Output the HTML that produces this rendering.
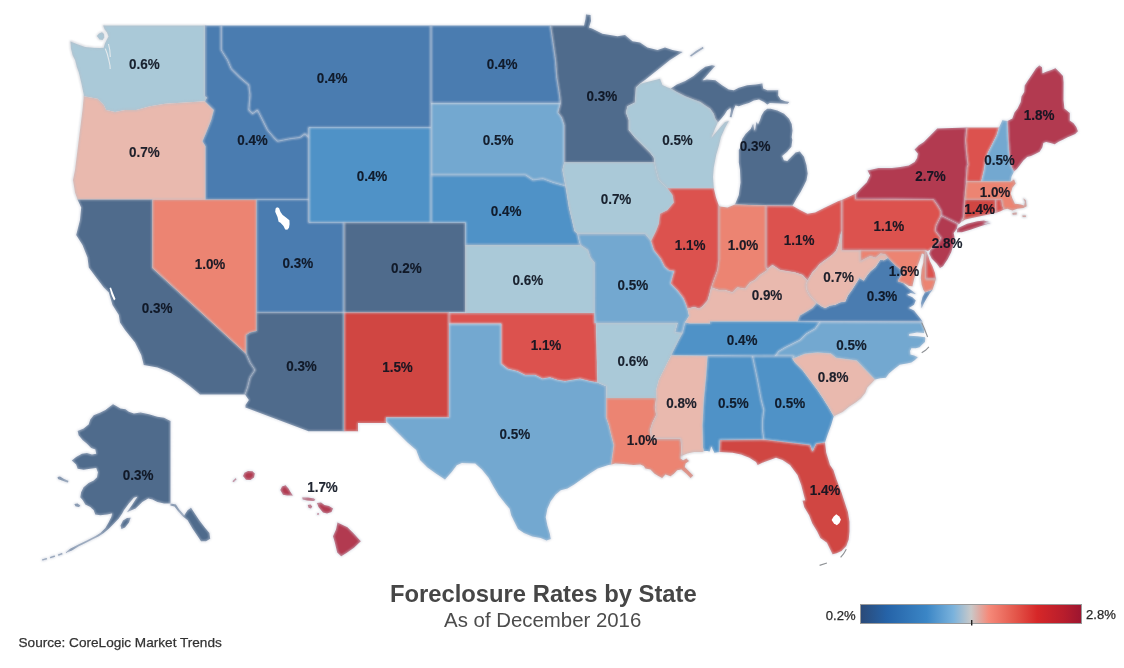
<!DOCTYPE html>
<html lang="en"><head><meta charset="utf-8"><title>Foreclosure Rates by State</title>
<style>
html,body{margin:0;padding:0;background:#fff;}
body{width:1124px;height:668px;overflow:hidden;position:relative;font-family:"Liberation Sans",Arial,sans-serif;}
svg{position:absolute;left:0;top:0;}
.st{stroke:#cdd2de;stroke-width:1.15;stroke-linejoin:round;}
.lb{font-family:"Liberation Sans",Arial,sans-serif;font-size:15.4px;fill:#0c1220;fill-opacity:.92;text-anchor:middle;stroke:#0c1220;stroke-opacity:.92;stroke-width:0.15;font-weight:bold;}
.w{fill:#fff;stroke:none;}
.s2{stroke:#bcbfc8;}
</style></head><body>
<svg width="1124" height="668" viewBox="0 0 1124 668">
<defs><linearGradient id="lg" x1="0" x2="1" y1="0" y2="0">
<stop offset="0" stop-color="#2b4a78"/><stop offset="0.12" stop-color="#2563a8"/><stop offset="0.3" stop-color="#3b86c6"/><stop offset="0.42" stop-color="#7ab2dc"/><stop offset="0.5" stop-color="#c9c9c9"/><stop offset="0.58" stop-color="#f58a7a"/><stop offset="0.7" stop-color="#e4574b"/><stop offset="0.8" stop-color="#d62728"/><stop offset="0.92" stop-color="#b81d2c"/><stop offset="1" stop-color="#9c1530"/>
</linearGradient></defs>
<g id="map">
<path fill="#aac9d8" d="M103.2,25.5 205.0,25.5 205.0,96.2 207.0,97.5 205.0,101.2 185.0,102.5 165.0,103.8 150.0,106.2 136.2,110.0 125.0,110.0 115.0,112.0 106.2,110.0 103.8,105.0 97.5,98.8 83.8,96.2 83.8,95.0 81.2,82.5 78.8,72.5 76.8,67.0 75.1,60.3 72.6,55.3 70.9,48.6 70.5,41.4 76.8,43.9 85.2,46.9 93.6,47.7 99.4,48.1 103.6,47.7 104.9,43.5 107.0,39.3 108.5,36.5 107.0,32.6 104.5,29.3Z M96.9,36.0 99.0,33.5 102.0,32.2 104.0,34.0 104.3,37.5 102.5,40.0 99.5,39.5Z"/>
<path fill="#e9b9ae" d="M83.8,96.2 97.5,98.8 103.8,105.0 106.2,110.0 115.0,112.0 125.0,110.0 136.2,110.0 150.0,106.2 165.0,103.8 185.0,102.5 205.0,101.2 210.0,106.2 213.8,110.0 211.2,120.0 206.2,132.5 202.5,141.2 205.5,146.2 205.5,199.5 77.5,199.5 75.0,192.5 73.0,180.0 75.0,170.0 77.5,150.0 80.0,130.0 82.5,110.0Z"/>
<path fill="#4f6b8c" d="M77.5,199.5 152.5,199.5 152.5,268.0 246.2,353.8 250.0,362.5 255.0,370.0 250.0,377.5 247.5,387.5 245.0,394.5 200.0,394.5 190.0,386.2 180.0,378.8 170.0,372.5 157.5,367.5 143.8,365.0 141.2,355.0 135.0,342.5 125.0,330.0 120.0,322.5 118.8,315.0 112.5,305.0 108.8,292.5 103.8,287.5 96.2,277.5 88.8,267.5 87.5,257.5 82.5,245.0 76.2,235.0 80.0,220.0 81.2,207.5Z"/>
<path fill="#ec8472" d="M152.5,199.5 256.5,199.5 256.5,331.0 250.0,332.5 246.2,335.0 246.2,353.8 152.5,268.0Z"/>
<path fill="#4a7cb0" d="M205.0,25.5 221.2,25.5 221.2,50.0 227.5,60.0 231.2,68.8 240.0,77.5 248.8,85.0 250.0,95.0 248.8,110.0 252.5,113.8 257.5,110.0 262.5,120.0 267.5,130.0 273.8,137.5 277.5,141.2 290.0,138.8 300.0,137.5 305.0,133.8 308.8,137.5 308.8,199.5 205.5,199.5 205.5,146.2 202.5,141.2 206.2,132.5 211.2,120.0 213.8,110.0 210.0,106.2 205.0,101.2 207.0,97.5 205.0,96.2Z"/>
<path fill="#4a7cb0" d="M221.2,25.5 431.0,25.5 431.0,127.5 308.8,127.5 308.8,137.5 305.0,133.8 300.0,137.5 290.0,138.8 277.5,141.2 273.8,137.5 267.5,130.0 262.5,120.0 257.5,110.0 252.5,113.8 248.8,110.0 250.0,95.0 248.8,85.0 240.0,77.5 231.2,68.8 227.5,60.0 221.2,50.0 221.2,25.5Z"/>
<path fill="#4f92c7" d="M308.8,127.5 431.0,127.5 431.0,222.5 308.8,222.5Z"/>
<path fill="#4a7cb0" d="M256.5,199.5 308.8,199.5 308.8,222.5 344.0,222.5 344.0,312.5 256.5,312.5Z"/>
<path fill="#4f6b8c" d="M344.0,222.5 465.5,222.5 465.5,312.5 344.0,312.5Z"/>
<path fill="#4f6b8c" d="M256.5,312.5 344.0,312.5 344.0,431.2 308.5,431.2 245.5,407.5 245.5,405.0 248.8,400.0 245.0,394.5 247.5,387.5 250.0,377.5 255.0,370.0 250.0,362.5 246.2,353.8 246.2,353.8 246.2,335.0 250.0,332.5 256.5,331.0Z"/>
<path fill="#d04642" d="M344.0,312.5 449.0,312.5 449.0,417.5 386.2,417.5 386.2,423.0 358.0,423.0 358.0,431.2 344.0,431.2Z"/>
<path fill="#4a7cb0" d="M431.0,25.5 550.5,25.5 553.0,42.5 555.5,60.0 556.8,77.5 559.2,92.5 560.5,103.2 431.0,103.2Z"/>
<path fill="#73a8d0" d="M431.0,103.2 560.5,103.2 558.0,112.5 561.8,117.5 564.2,125.0 564.2,162.5 562.5,170.0 565.5,186.0 553.0,182.5 543.0,178.8 533.0,180.0 525.5,175.0 431.0,175.0Z"/>
<path fill="#4f92c7" d="M431.0,175.0 525.5,175.0 533.0,180.0 543.0,178.8 553.0,182.5 565.5,186.0 567.0,195.0 569.0,207.5 572.0,220.0 574.5,231.0 577.5,233.8 579.5,242.5 580.5,245.0 465.5,245.0 465.5,222.5 431.0,222.5Z"/>
<path fill="#aac9d8" d="M465.5,245.0 580.5,245.0 588.0,250.0 590.5,257.5 594.5,262.5 594.5,313.0 465.5,313.0Z"/>
<path fill="#dc524e" d="M449.0,313.0 594.5,313.0 595.0,323.0 596.0,323.0 597.5,382.5 590.0,381.2 580.0,378.8 572.5,380.0 565.0,381.2 557.5,380.0 550.0,377.5 542.5,378.8 535.0,375.0 525.0,375.0 517.5,371.2 507.5,368.8 501.2,363.8 501.2,323.8 449.0,323.8Z"/>
<path fill="#73a8d0" d="M449.0,323.8 501.2,323.8 501.2,363.8 507.5,368.8 517.5,371.2 525.0,375.0 535.0,375.0 542.5,378.8 550.0,377.5 557.5,380.0 565.0,381.2 572.5,380.0 580.0,378.8 590.0,381.2 597.5,382.5 606.2,386.2 606.2,417.5 608.8,425.0 611.2,435.0 613.8,445.0 612.5,455.0 611.2,464.5 607.7,465.2 597.7,468.5 591.0,472.7 582.6,478.6 574.2,484.4 567.5,488.6 560.8,490.3 555.7,494.5 550.7,501.2 547.4,508.8 545.7,517.2 547.4,525.5 549.9,533.9 550.7,539.0 546.5,540.6 540.6,538.1 532.3,536.4 523.9,533.1 518.0,528.9 514.6,522.2 511.3,515.5 509.6,508.8 505.4,503.7 498.7,495.3 493.7,487.0 488.6,477.7 481.9,469.4 475.2,463.5 461.8,463.1 456.8,465.2 451.7,471.9 445.0,479.4 436.2,473.8 427.5,467.5 420.0,460.0 416.2,450.0 407.5,442.5 400.0,435.0 392.5,427.5 386.2,421.2 386.2,417.5 449.0,417.5Z"/>
<path fill="#4f6b8c" d="M550.5,25.5 553.0,42.5 555.5,60.0 556.8,77.5 559.2,92.5 560.5,103.2 558.0,112.5 561.8,117.5 564.2,125.0 564.2,162.5 654.5,162.5 653.8,157.5 650.0,152.5 642.5,145.0 635.0,137.5 628.8,130.0 628.8,120.0 626.0,112.5 627.5,106.2 635.0,102.5 636.0,87.5 640.0,83.8 645.0,80.0 657.5,70.0 670.0,60.0 682.5,52.0 672.5,50.0 665.0,47.5 657.5,50.0 647.5,47.5 640.0,42.5 632.5,41.2 625.0,35.0 617.5,36.2 602.5,33.8 592.5,28.8 589.0,27.5 591.0,21.0 590.5,15.0 586.0,14.5 585.5,19.0 584.0,25.5Z"/>
<path fill="#aac9d8" d="M564.2,162.5 654.5,162.5 656.0,170.0 658.8,180.0 667.5,188.2 672.5,195.0 673.8,202.5 667.5,210.0 660.0,213.8 658.8,223.8 656.0,231.0 651.0,241.0 645.0,233.8 577.5,233.8 574.5,231.0 572.0,220.0 569.0,207.5 567.0,195.0 565.5,186.0 562.5,170.0Z"/>
<path fill="#73a8d0" d="M577.5,233.8 579.5,242.5 580.5,245.0 588.0,250.0 590.5,257.5 594.5,262.5 594.5,323.0 677.5,323.0 675.0,332.5 682.5,333.0 685.0,322.5 689.1,316.0 687.5,308.8 685.8,303.7 683.3,297.9 677.4,290.3 670.7,283.6 672.4,276.9 674.1,271.0 669.0,270.2 664.8,266.8 660.6,258.5 653.9,250.1 651.0,241.0 645.0,233.8Z"/>
<path fill="#aac9d8" d="M596.0,323.0 677.5,323.0 675.0,332.5 682.5,333.0 677.5,342.5 672.5,352.5 671.2,355.5 667.5,362.5 662.5,372.5 658.8,380.0 656.2,390.0 656.2,398.0 606.2,398.0 606.2,386.2 597.5,382.5Z"/>
<path fill="#ec8472" d="M606.2,398.0 656.2,398.0 655.0,407.5 656.2,415.0 652.5,422.5 650.0,430.0 651.2,438.8 680.6,438.8 681.4,447.5 681.4,452.0 680.6,458.6 683.1,460.3 686.4,458.6 689.0,461.1 685.6,463.6 684.8,467.0 689.0,471.2 693.2,475.4 690.6,477.9 686.4,473.7 681.4,469.5 677.2,470.3 673.9,473.7 670.5,476.2 665.5,474.5 662.1,477.9 658.8,476.2 654.6,473.7 650.4,469.5 645.4,468.6 643.7,466.1 640.3,464.4 633.6,465.0 623.5,463.9 615.2,463.6 611.2,464.5 612.5,455.0 613.8,445.0 611.2,435.0 608.8,425.0 606.2,417.5Z"/>
<path fill="#aac9d8" d="M640.0,83.8 650.0,81.2 660.0,78.8 662.5,85.0 668.0,87.5 670.9,88.6 676.8,92.0 685.2,96.2 693.5,99.5 700.3,102.1 705.3,105.4 710.3,108.8 713.7,113.8 715.4,118.8 717.9,122.2 715.0,128.8 711.5,137.5 720.0,127.5 725.0,122.0 728.8,121.0 725.0,128.0 721.0,137.0 718.8,146.0 716.2,155.0 713.8,167.5 713.0,177.0 713.8,188.2 667.5,188.2 658.8,180.0 656.0,170.0 654.5,162.5 654.5,162.5 653.8,157.5 650.0,152.5 642.5,145.0 635.0,137.5 628.8,130.0 628.8,120.0 626.0,112.5 627.5,106.2 635.0,102.5 636.0,87.5 640.0,83.8Z"/>
<path fill="#dc524e" d="M667.5,188.2 713.8,188.2 716.0,197.5 718.8,205.5 718.8,260.0 717.5,270.0 713.8,280.0 711.2,287.5 711.2,287.5 709.5,294.0 707.6,300.4 702.6,306.3 699.2,308.8 694.2,307.1 687.5,308.8 687.5,308.8 685.8,303.7 683.3,297.9 677.4,290.3 670.7,283.6 672.4,276.9 674.1,271.0 669.0,270.2 664.8,266.8 660.6,258.5 653.9,250.1 651.0,241.0 651.0,241.0 656.0,231.0 658.8,223.8 660.0,213.8 667.5,210.0 673.8,202.5 672.5,195.0 667.5,188.2Z"/>
<path fill="#4f6b8c" d="M670.9,88.6 676.8,84.4 685.2,81.1 693.5,76.1 700.3,70.2 705.3,66.8 712.0,65.2 715.0,66.0 712.0,69.4 707.0,75.2 702.8,80.3 707.0,79.4 715.4,80.3 722.1,85.3 728.8,89.5 733.8,90.3 738.8,87.8 747.2,85.3 755.6,84.4 762.3,83.6 763.2,88.6 767.3,90.3 778.2,90.3 778.2,95.4 780.8,99.5 785.0,101.2 789.2,102.0 787.5,103.7 780.8,103.4 769.9,102.9 767.3,104.6 764.0,102.0 759.0,99.5 753.9,100.4 748.9,102.9 743.9,104.6 738.8,106.3 735.5,105.4 733.5,110.0 731.5,117.3 729.8,117.0 731.0,110.5 730.4,107.9 727.1,110.4 724.6,114.6 721.2,118.8 717.9,122.2 715.4,118.8 713.7,113.8 710.3,108.8 705.3,105.4 700.3,102.1 693.5,99.5 685.2,96.2 676.8,92.0Z M690.2,55.6 696.0,51.0 702.8,47.0 703.5,48.2 697.0,52.5 691.0,56.6Z"/>
<path fill="#4f6b8c" d="M767.3,108.8 770.7,108.8 777.4,110.4 784.1,113.8 789.1,118.8 791.7,123.9 792.5,130.6 791.7,137.3 792.3,140.0 791.4,146.8 787.2,151.8 782.2,156.0 783.9,160.2 787.2,161.0 791.4,156.8 795.6,152.6 799.8,151.5 804.0,156.8 806.5,165.2 807.7,173.6 806.5,180.3 804.0,185.4 800.6,192.1 796.4,198.8 792.5,205.8 766.2,205.5 735.0,204.5 738.8,195.0 740.5,182.5 740.0,170.0 738.8,162.5 738.8,150.0 740.5,147.3 742.2,139.0 745.5,133.9 750.6,128.9 753.1,124.0 754.8,130.6 756.4,122.2 758.1,123.9 759.8,120.5 761.5,115.5 764.0,111.3Z"/>
<path fill="#ec8472" d="M718.8,205.5 720.0,206.5 727.5,207.5 735.0,204.5 766.2,205.5 766.2,267.5 767.5,270.0 760.0,275.0 755.0,280.0 750.0,282.5 745.0,288.8 737.5,287.5 732.5,292.5 725.0,290.0 718.8,290.0 711.2,287.5 711.2,287.5 713.8,280.0 717.5,270.0 718.8,260.0Z"/>
<path fill="#dc524e" d="M766.2,205.5 792.5,205.8 800.0,210.0 807.5,213.8 815.0,212.5 825.0,207.5 838.0,201.2 841.8,200.0 841.8,231.0 841.8,231.0 840.2,236.0 838.6,244.4 836.0,251.0 832.7,254.4 828.5,257.8 823.5,261.2 819.3,264.5 815.9,268.7 812.6,272.0 810.0,276.3 807.5,280.4 807.5,280.4 802.5,275.0 795.0,272.5 787.5,271.2 780.0,270.0 772.5,265.0 767.5,268.8 766.2,267.5Z"/>
<path fill="#e9b9ae" d="M687.5,308.8 694.2,307.1 699.2,308.8 702.6,306.3 707.6,300.4 709.5,294.0 711.2,287.5 718.8,290.0 725.0,290.0 732.5,292.5 737.5,287.5 745.0,288.8 750.0,282.5 755.0,280.0 760.0,275.0 767.5,270.0 766.2,267.5 767.5,268.8 772.5,265.0 780.0,270.0 787.5,271.2 795.0,272.5 802.5,275.0 807.5,280.4 806.0,284.6 806.7,289.7 809.2,294.7 813.4,299.7 816.8,303.1 812.5,308.0 806.0,312.0 800.0,315.5 797.5,321.5 710.0,321.5 710.0,323.5 690.0,323.5 685.0,322.5 689.1,316.0Z"/>
<path fill="#4f92c7" d="M685.0,322.5 690.0,323.5 710.0,323.5 710.0,321.5 797.5,321.5 820.0,321.8 815.0,328.8 806.2,333.8 800.0,340.0 792.5,343.8 785.0,347.5 778.8,351.2 775.0,356.0 671.2,355.5 672.5,352.5 677.5,342.5 682.5,333.0Z"/>
<path fill="#e9b9ae" d="M671.2,355.5 707.5,356.0 706.2,375.0 703.8,400.0 702.5,425.0 703.0,447.5 704.0,451.0 702.4,451.9 694.0,451.9 687.3,453.5 681.4,456.1 680.6,458.6 681.4,452.0 681.4,447.5 680.6,438.8 651.2,438.8 650.0,430.0 652.5,422.5 656.2,415.0 655.0,407.5 656.2,398.0 656.2,398.0 656.2,390.0 658.8,380.0 662.5,372.5 667.5,362.5 671.2,355.5Z"/>
<path fill="#4f92c7" d="M707.5,356.0 752.5,356.0 757.5,380.0 761.2,400.0 763.8,410.0 762.5,420.0 762.5,430.0 763.8,439.5 720.0,440.0 719.5,451.9 714.5,452.7 713.0,450.0 711.2,446.6 710.2,450.0 709.5,451.5 707.4,451.0 704.0,451.0 703.0,447.5 702.5,425.0 703.8,400.0 706.2,375.0 707.5,356.0Z"/>
<path fill="#4f92c7" d="M752.5,356.0 793.8,356.0 792.5,358.8 795.0,362.5 802.5,370.0 810.0,380.0 817.5,390.0 822.5,397.5 828.8,407.5 833.8,416.2 831.2,425.0 827.5,435.0 825.0,442.5 816.2,443.8 812.5,451.2 810.0,445.0 763.8,439.5 762.5,430.0 762.5,420.0 763.8,410.0 761.2,400.0 757.5,380.0 752.5,356.0Z"/>
<path fill="#d04642" d="M720.0,440.0 763.8,439.5 810.0,445.0 812.5,451.2 816.2,443.8 825.0,442.5 826.2,452.5 830.0,465.0 833.4,470.0 836.6,479.7 841.5,492.6 844.7,502.3 847.9,512.1 849.5,521.8 849.5,531.5 848.7,539.5 846.3,546.0 841.5,550.9 836.6,553.3 832.6,554.3 830.1,549.3 826.9,542.8 820.4,537.9 817.2,531.5 812.3,523.4 809.1,515.3 804.3,507.2 802.6,500.7 805.2,500.2 803.8,495.0 801.2,485.0 797.5,475.0 790.0,465.0 782.5,460.0 776.0,457.7 764.4,461.9 757.7,465.0 756.0,461.9 749.3,457.7 741.0,454.4 732.6,452.7 719.5,451.9Z"/>
<path fill="#e9b9ae" d="M792.5,358.8 805.0,353.8 817.5,352.5 830.8,353.5 836.2,357.8 856.7,360.5 875.0,379.4 871.8,383.1 867.4,387.4 865.3,392.8 861.0,398.2 855.6,402.5 849.1,406.8 842.6,412.0 833.8,416.2 828.8,407.5 822.5,397.5 817.5,390.0 810.0,380.0 802.5,370.0 795.0,362.5Z"/>
<path fill="#73a8d0" d="M820.0,321.8 921.7,322.0 923.1,326.6 924.4,330.2 924.0,332.9 917.0,332.6 909.2,334.1 909.2,335.8 917.7,336.2 924.9,337.2 925.3,338.5 924.9,341.9 922.2,344.6 919.5,347.3 915.9,348.2 911.4,348.2 910.1,350.9 910.5,354.5 914.1,355.4 917.7,357.2 915.0,359.9 911.4,362.6 906.9,363.5 902.4,364.3 899.8,364.8 894.2,369.1 889.0,373.4 885.8,377.7 880.4,378.3 875.0,379.4 856.7,360.5 836.2,357.8 830.8,353.5 817.5,352.5 805.0,353.8 792.5,358.8 793.8,356.0 775.0,356.0 778.8,351.2 785.0,347.5 792.5,343.8 800.0,340.0 806.2,333.8 815.0,328.8Z"/>
<path fill="#4a7cb0" d="M888.0,257.8 891.4,261.2 895.6,265.4 900.6,269.5 902.3,273.7 899.0,278.8 898.0,281.3 903.2,283.0 909.0,288.5 913.0,291.5 915.7,293.9 910.7,293.0 907.3,294.7 912.4,297.2 915.7,300.6 914.0,304.8 909.0,308.1 914.0,310.6 917.4,314.8 920.8,319.0 922.5,321.8 797.5,321.5 800.0,315.5 806.0,312.0 812.5,308.0 816.8,303.1 821.8,306.4 825.2,308.1 830.2,305.6 835.2,304.8 840.3,302.3 845.3,301.4 847.8,295.5 852.0,289.7 855.3,284.6 859.5,278.0 863.7,280.4 867.0,275.4 870.4,271.2 875.5,267.0 880.5,259.5 883.9,260.3Z M925.0,292.2 932.5,289.7 930.0,293.0 927.5,297.0 924.0,303.1 921.6,308.1 921.0,303.0 922.5,297.0Z"/>
<path fill="#e9b9ae" d="M841.8,231.0 841.8,250.2 860.4,250.2 860.4,261.2 865.4,258.6 870.4,256.0 875.5,257.8 880.5,253.6 885.5,254.5 888.0,257.8 883.9,260.3 880.5,259.5 875.5,267.0 870.4,271.2 867.0,275.4 863.7,280.4 859.5,278.0 855.3,284.6 852.0,289.7 847.8,295.5 845.3,301.4 840.3,302.3 835.2,304.8 830.2,305.6 825.2,308.1 821.8,306.4 816.8,303.1 813.4,299.7 809.2,294.7 806.7,289.7 806.0,284.6 807.5,280.4 810.0,276.3 812.6,272.0 815.9,268.7 819.3,264.5 823.5,261.2 828.5,257.8 832.7,254.4 836.0,251.0 838.6,244.4 840.2,236.0Z"/>
<path fill="#ec8472" d="M860.4,250.2 925.0,250.2 925.8,252.0 925.8,278.8 935.9,278.8 934.5,284.0 932.5,289.7 925.0,292.2 923.3,289.7 921.6,284.6 920.8,278.0 921.6,269.5 923.3,262.8 924.0,254.5 922.0,253.5 920.0,259.5 917.4,266.2 915.7,272.9 914.0,279.6 912.4,286.3 909.0,286.0 903.2,283.0 898.0,281.3 899.0,278.8 902.3,273.7 900.6,269.5 895.6,265.4 891.4,261.2 888.0,257.8 888.0,257.8 885.5,254.5 880.5,253.6 875.5,257.8 870.4,256.0 865.4,258.6 860.4,261.2Z"/>
<path fill="#dc524e" d="M925.0,250.2 926.6,252.0 928.3,256.1 930.0,261.2 932.5,266.2 935.0,272.9 935.9,278.8 925.8,278.8 925.8,252.0Z"/>
<path fill="#b23a50" d="M941.1,215.4 957.9,223.8 957.0,228.8 953.7,233.0 954.5,237.2 953.7,243.9 951.2,252.3 947.8,259.0 943.0,266.2 940.0,267.9 936.8,263.8 931.8,258.8 929.2,253.8 930.2,249.8 933.5,247.3 937.7,243.1 941.1,238.0 937.7,233.9 935.2,230.5 936.1,225.5 938.6,220.4 941.1,215.4Z"/>
<path fill="#dc524e" d="M841.8,200.0 855.5,193.8 855.5,199.0 933.5,199.5 937.7,205.4 941.1,211.2 941.1,215.4 938.6,220.4 936.1,225.5 935.2,230.5 937.7,233.9 941.1,238.0 937.7,243.1 933.5,247.3 930.2,249.8 928.0,251.0 925.0,250.2 841.8,250.2Z"/>
<path fill="#b23a50" d="M855.5,199.0 855.7,193.9 860.1,188.9 866.8,182.2 870.1,175.5 867.6,170.4 878.5,167.9 891.9,167.9 900.3,167.1 908.7,165.4 914.6,162.1 917.1,157.9 917.9,153.7 914.6,149.5 918.8,145.3 923.8,141.9 930.5,135.2 937.2,128.5 966.8,127.5 965.5,140.0 966.8,155.0 968.0,165.0 967.1,166.8 966.2,181.5 964.6,199.5 963.7,217.1 961.2,222.1 958.7,224.6 957.9,223.8 941.1,215.4 941.1,211.2 937.7,205.4 933.5,199.5Z M957.0,229.5 957.9,228.0 967.1,223.8 977.2,221.3 983.9,220.4 988.9,222.1 983.9,223.8 990.6,223.0 980.5,226.3 970.4,229.7 962.0,232.2 957.0,232.2Z"/>
<path fill="#dc524e" d="M966.8,127.5 999.0,127.5 996.8,135.0 991.8,145.0 988.0,152.5 985.5,160.0 984.0,170.0 981.3,181.5 966.2,181.5 967.1,166.8 968.0,165.0 966.8,155.0 965.5,140.0Z"/>
<path fill="#73a8d0" d="M999.0,127.5 1002.4,120.3 1007.5,121.0 1008.3,137.7 1008.9,148.5 1010.0,160.4 1011.6,166.8 1014.0,171.5 1011.5,176.8 1010.7,181.5 981.3,181.5 984.0,170.0 985.5,160.0 988.0,152.5 991.8,145.0 996.8,135.0 999.0,127.5Z"/>
<path fill="#b23a50" d="M1007.5,121.0 1012.3,118.5 1014.5,112.5 1017.7,108.2 1020.7,102.0 1021.5,96.4 1024.2,92.0 1024.7,85.6 1027.4,81.3 1031.8,74.8 1036.1,68.3 1039.3,65.6 1042.0,67.3 1042.5,73.2 1046.8,71.6 1051.2,69.9 1055.5,68.3 1059.8,72.6 1063.0,75.9 1063.6,82.3 1063.5,100.0 1064.4,108.6 1069.8,112.9 1069.8,120.5 1073.6,123.2 1076.3,127.0 1077.9,131.3 1075.2,134.0 1071.9,135.6 1067.6,137.2 1063.3,139.4 1059.0,141.5 1054.7,144.2 1050.4,143.1 1046.1,142.0 1043.4,143.1 1042.3,147.4 1039.6,151.8 1035.3,153.9 1031.0,156.1 1027.2,157.1 1023.4,160.4 1020.2,164.7 1016.9,169.0 1014.0,171.5 1011.6,166.8 1010.0,160.4 1008.9,148.5 1008.3,137.7Z"/>
<path fill="#ec8472" d="M966.2,181.5 1010.7,181.5 1014.0,179.4 1015.7,183.5 1012.4,187.7 1010.7,193.6 1012.4,198.6 1014.9,203.7 1020.8,204.5 1024.1,205.4 1025.0,202.0 1023.3,198.6 1025.8,200.3 1026.6,206.2 1023.3,207.9 1017.4,208.7 1012.4,210.4 1007.3,208.7 1004.0,209.5 1002.3,205.4 1001.5,199.5 964.6,199.5Z M1012.4,213.0 1016.6,212.6 1016.6,214.4 1012.8,214.8Z M1022.4,215.4 1025.8,215.6 1025.8,217.0 1022.8,217.0Z"/>
<path fill="#d04642" d="M964.6,199.5 995.6,199.5 995.6,212.9 983.9,215.4 972.1,217.9 965.4,219.6 961.2,222.1 963.7,217.1Z"/>
<path fill="#dc524e" d="M995.6,199.5 1001.5,199.5 1002.3,205.4 1004.0,209.5 1000.6,211.2 995.6,212.9Z"/>
<path fill="#4f6b8c" d="M170.5,421.0 164.1,417.7 157.4,416.8 149.0,414.3 140.6,412.6 133.9,413.5 128.9,411.8 125.5,409.3 120.5,408.5 116.3,405.9 113.0,404.3 109.6,406.8 105.4,410.1 100.4,412.6 93.7,415.2 90.3,419.4 88.6,424.4 83.6,428.6 77.7,431.1 78.6,435.3 82.8,440.3 87.0,443.7 91.2,447.9 95.3,449.5 96.2,453.7 92.0,454.6 87.0,452.9 81.9,453.7 76.1,457.1 71.9,460.4 76.1,464.6 77.7,468.8 83.6,469.7 90.3,468.8 96.2,468.0 97.9,472.2 97.0,477.2 93.7,480.6 88.6,483.1 83.6,487.3 81.1,492.3 80.3,497.3 82.8,500.2 85.3,504.4 90.3,506.9 93.7,510.3 95.3,514.4 100.4,515.3 107.1,514.4 112.1,513.6 111.3,517.0 108.8,522.0 105.4,527.9 100.4,532.9 95.3,536.3 87.0,540.4 78.6,544.6 70.2,548.8 65.2,553.0 71.9,550.5 78.6,546.3 85.3,543.0 92.0,539.6 98.7,536.3 103.7,532.9 108.8,528.7 113.8,523.7 118.8,518.6 122.2,513.6 123.9,510.3 128.9,503.5 133.9,497.7 137.3,496.8 132.0,505.0 127.2,511.9 131.4,510.3 135.6,508.6 139.0,505.2 142.3,501.9 148.2,498.5 152.4,499.4 157.4,501.9 164.1,503.5 170.5,503.5 175.9,504.4 179.2,509.4 184.2,515.3 187.6,510.3 191.0,507.7 194.3,512.8 199.3,520.3 204.4,527.0 209.4,532.9 210.2,538.8 206.0,541.3 201.0,541.3 197.7,536.3 192.6,528.7 187.6,520.3 183.0,516.5 178.0,511.0 174.5,506.5 170.5,505.5Z M120.5,525.4 123.0,520.5 127.0,518.0 130.6,517.8 129.0,522.5 125.0,527.5 121.5,529.0Z M57.6,477.0 60.0,476.5 64.0,479.0 68.5,481.0 67.5,482.4 62.0,480.6 58.0,479.0Z M74.4,504.0 77.5,503.5 80.3,505.5 79.0,507.0 75.5,506.3Z M58.0,554.5 62.0,553.0 62.5,554.2 58.5,555.8Z M50.0,557.0 54.5,555.5 55.0,556.7 50.5,558.3Z M42.0,559.5 46.5,558.0 47.0,559.2 42.5,560.6Z"/>
<path fill="#b23a50" d="M243.0,476.0 244.5,472.8 248.0,471.0 252.5,471.2 254.8,473.5 254.0,477.5 250.5,480.0 246.0,479.8Z M282.0,486.5 285.6,485.3 288.5,488.5 290.5,492.0 292.8,495.5 287.0,495.6 283.0,494.8 280.3,490.0Z M302.3,497.6 308.0,497.4 314.0,498.6 315.3,500.0 313.5,501.0 307.0,500.6 302.8,499.6Z M307.8,505.0 310.5,504.4 312.2,506.5 311.0,508.6 308.6,507.8Z M317.0,503.0 321.0,502.6 324.5,505.0 329.0,506.0 333.0,508.5 331.5,512.0 327.0,513.5 323.0,512.5 320.5,509.5 318.5,507.0Z M337.5,522.5 347.5,527.2 353.8,533.5 360.8,541.2 354.0,547.8 346.5,553.0 341.2,556.2 337.2,552.5 334.8,542.5 333.0,536.2 336.0,529.5Z M232.5,481.3 235.5,478.2 236.5,479.3 233.8,482.0Z M317.0,513.5 319.0,513.2 319.0,514.6 317.3,514.8Z"/>
<g class="bd" style="filter:blur(0.8px)">
<path class="st" fill="none" d="M77.5,199.5 152.5,199.5 152.5,268.0 246.2,353.8 250.0,362.5 255.0,370.0 250.0,377.5 247.5,387.5 245.0,394.5 200.0,394.5 190.0,386.2 180.0,378.8 170.0,372.5 157.5,367.5 143.8,365.0 141.2,355.0 135.0,342.5 125.0,330.0 120.0,322.5 118.8,315.0 112.5,305.0 108.8,292.5 103.8,287.5 96.2,277.5 88.8,267.5 87.5,257.5 82.5,245.0 76.2,235.0 80.0,220.0 81.2,207.5Z"/>
<path class="st" fill="none" d="M205.0,25.5 221.2,25.5 221.2,50.0 227.5,60.0 231.2,68.8 240.0,77.5 248.8,85.0 250.0,95.0 248.8,110.0 252.5,113.8 257.5,110.0 262.5,120.0 267.5,130.0 273.8,137.5 277.5,141.2 290.0,138.8 300.0,137.5 305.0,133.8 308.8,137.5 308.8,199.5 205.5,199.5 205.5,146.2 202.5,141.2 206.2,132.5 211.2,120.0 213.8,110.0 210.0,106.2 205.0,101.2 207.0,97.5 205.0,96.2Z"/>
<path class="st" fill="none" d="M221.2,25.5 431.0,25.5 431.0,127.5 308.8,127.5 308.8,137.5 305.0,133.8 300.0,137.5 290.0,138.8 277.5,141.2 273.8,137.5 267.5,130.0 262.5,120.0 257.5,110.0 252.5,113.8 248.8,110.0 250.0,95.0 248.8,85.0 240.0,77.5 231.2,68.8 227.5,60.0 221.2,50.0 221.2,25.5Z"/>
<path class="st" fill="none" d="M308.8,127.5 431.0,127.5 431.0,222.5 308.8,222.5Z"/>
<path class="st" fill="none" d="M256.5,199.5 308.8,199.5 308.8,222.5 344.0,222.5 344.0,312.5 256.5,312.5Z"/>
<path class="st" fill="none" d="M344.0,222.5 465.5,222.5 465.5,312.5 344.0,312.5Z"/>
<path class="st" fill="none" d="M256.5,312.5 344.0,312.5 344.0,431.2 308.5,431.2 245.5,407.5 245.5,405.0 248.8,400.0 245.0,394.5 247.5,387.5 250.0,377.5 255.0,370.0 250.0,362.5 246.2,353.8 246.2,353.8 246.2,335.0 250.0,332.5 256.5,331.0Z"/>
<path class="st" fill="none" d="M344.0,312.5 449.0,312.5 449.0,417.5 386.2,417.5 386.2,423.0 358.0,423.0 358.0,431.2 344.0,431.2Z"/>
<path class="st" fill="none" d="M431.0,25.5 550.5,25.5 553.0,42.5 555.5,60.0 556.8,77.5 559.2,92.5 560.5,103.2 431.0,103.2Z"/>
<path class="st" fill="none" d="M431.0,103.2 560.5,103.2 558.0,112.5 561.8,117.5 564.2,125.0 564.2,162.5 562.5,170.0 565.5,186.0 553.0,182.5 543.0,178.8 533.0,180.0 525.5,175.0 431.0,175.0Z"/>
<path class="st" fill="none" d="M431.0,175.0 525.5,175.0 533.0,180.0 543.0,178.8 553.0,182.5 565.5,186.0 567.0,195.0 569.0,207.5 572.0,220.0 574.5,231.0 577.5,233.8 579.5,242.5 580.5,245.0 465.5,245.0 465.5,222.5 431.0,222.5Z"/>
<path class="st" fill="none" d="M449.0,313.0 594.5,313.0 595.0,323.0 596.0,323.0 597.5,382.5 590.0,381.2 580.0,378.8 572.5,380.0 565.0,381.2 557.5,380.0 550.0,377.5 542.5,378.8 535.0,375.0 525.0,375.0 517.5,371.2 507.5,368.8 501.2,363.8 501.2,323.8 449.0,323.8Z"/>
<path class="st" fill="none" d="M449.0,323.8 501.2,323.8 501.2,363.8 507.5,368.8 517.5,371.2 525.0,375.0 535.0,375.0 542.5,378.8 550.0,377.5 557.5,380.0 565.0,381.2 572.5,380.0 580.0,378.8 590.0,381.2 597.5,382.5 606.2,386.2 606.2,417.5 608.8,425.0 611.2,435.0 613.8,445.0 612.5,455.0 611.2,464.5 607.7,465.2 597.7,468.5 591.0,472.7 582.6,478.6 574.2,484.4 567.5,488.6 560.8,490.3 555.7,494.5 550.7,501.2 547.4,508.8 545.7,517.2 547.4,525.5 549.9,533.9 550.7,539.0 546.5,540.6 540.6,538.1 532.3,536.4 523.9,533.1 518.0,528.9 514.6,522.2 511.3,515.5 509.6,508.8 505.4,503.7 498.7,495.3 493.7,487.0 488.6,477.7 481.9,469.4 475.2,463.5 461.8,463.1 456.8,465.2 451.7,471.9 445.0,479.4 436.2,473.8 427.5,467.5 420.0,460.0 416.2,450.0 407.5,442.5 400.0,435.0 392.5,427.5 386.2,421.2 386.2,417.5 449.0,417.5Z"/>
<path class="st" fill="none" d="M550.5,25.5 553.0,42.5 555.5,60.0 556.8,77.5 559.2,92.5 560.5,103.2 558.0,112.5 561.8,117.5 564.2,125.0 564.2,162.5 654.5,162.5 653.8,157.5 650.0,152.5 642.5,145.0 635.0,137.5 628.8,130.0 628.8,120.0 626.0,112.5 627.5,106.2 635.0,102.5 636.0,87.5 640.0,83.8 645.0,80.0 657.5,70.0 670.0,60.0 682.5,52.0 672.5,50.0 665.0,47.5 657.5,50.0 647.5,47.5 640.0,42.5 632.5,41.2 625.0,35.0 617.5,36.2 602.5,33.8 592.5,28.8 589.0,27.5 591.0,21.0 590.5,15.0 586.0,14.5 585.5,19.0 584.0,25.5Z"/>
<path class="st" fill="none" d="M577.5,233.8 579.5,242.5 580.5,245.0 588.0,250.0 590.5,257.5 594.5,262.5 594.5,323.0 677.5,323.0 675.0,332.5 682.5,333.0 685.0,322.5 689.1,316.0 687.5,308.8 685.8,303.7 683.3,297.9 677.4,290.3 670.7,283.6 672.4,276.9 674.1,271.0 669.0,270.2 664.8,266.8 660.6,258.5 653.9,250.1 651.0,241.0 645.0,233.8Z"/>
<path class="st" fill="none" d="M667.5,188.2 713.8,188.2 716.0,197.5 718.8,205.5 718.8,260.0 717.5,270.0 713.8,280.0 711.2,287.5 711.2,287.5 709.5,294.0 707.6,300.4 702.6,306.3 699.2,308.8 694.2,307.1 687.5,308.8 687.5,308.8 685.8,303.7 683.3,297.9 677.4,290.3 670.7,283.6 672.4,276.9 674.1,271.0 669.0,270.2 664.8,266.8 660.6,258.5 653.9,250.1 651.0,241.0 651.0,241.0 656.0,231.0 658.8,223.8 660.0,213.8 667.5,210.0 673.8,202.5 672.5,195.0 667.5,188.2Z"/>
<path class="st" fill="none" d="M670.9,88.6 676.8,84.4 685.2,81.1 693.5,76.1 700.3,70.2 705.3,66.8 712.0,65.2 715.0,66.0 712.0,69.4 707.0,75.2 702.8,80.3 707.0,79.4 715.4,80.3 722.1,85.3 728.8,89.5 733.8,90.3 738.8,87.8 747.2,85.3 755.6,84.4 762.3,83.6 763.2,88.6 767.3,90.3 778.2,90.3 778.2,95.4 780.8,99.5 785.0,101.2 789.2,102.0 787.5,103.7 780.8,103.4 769.9,102.9 767.3,104.6 764.0,102.0 759.0,99.5 753.9,100.4 748.9,102.9 743.9,104.6 738.8,106.3 735.5,105.4 733.5,110.0 731.5,117.3 729.8,117.0 731.0,110.5 730.4,107.9 727.1,110.4 724.6,114.6 721.2,118.8 717.9,122.2 715.4,118.8 713.7,113.8 710.3,108.8 705.3,105.4 700.3,102.1 693.5,99.5 685.2,96.2 676.8,92.0Z M690.2,55.6 696.0,51.0 702.8,47.0 703.5,48.2 697.0,52.5 691.0,56.6Z"/>
<path class="st" fill="none" d="M767.3,108.8 770.7,108.8 777.4,110.4 784.1,113.8 789.1,118.8 791.7,123.9 792.5,130.6 791.7,137.3 792.3,140.0 791.4,146.8 787.2,151.8 782.2,156.0 783.9,160.2 787.2,161.0 791.4,156.8 795.6,152.6 799.8,151.5 804.0,156.8 806.5,165.2 807.7,173.6 806.5,180.3 804.0,185.4 800.6,192.1 796.4,198.8 792.5,205.8 766.2,205.5 735.0,204.5 738.8,195.0 740.5,182.5 740.0,170.0 738.8,162.5 738.8,150.0 740.5,147.3 742.2,139.0 745.5,133.9 750.6,128.9 753.1,124.0 754.8,130.6 756.4,122.2 758.1,123.9 759.8,120.5 761.5,115.5 764.0,111.3Z"/>
<path class="st" fill="none" d="M766.2,205.5 792.5,205.8 800.0,210.0 807.5,213.8 815.0,212.5 825.0,207.5 838.0,201.2 841.8,200.0 841.8,231.0 841.8,231.0 840.2,236.0 838.6,244.4 836.0,251.0 832.7,254.4 828.5,257.8 823.5,261.2 819.3,264.5 815.9,268.7 812.6,272.0 810.0,276.3 807.5,280.4 807.5,280.4 802.5,275.0 795.0,272.5 787.5,271.2 780.0,270.0 772.5,265.0 767.5,268.8 766.2,267.5Z"/>
<path class="st" fill="none" d="M685.0,322.5 690.0,323.5 710.0,323.5 710.0,321.5 797.5,321.5 820.0,321.8 815.0,328.8 806.2,333.8 800.0,340.0 792.5,343.8 785.0,347.5 778.8,351.2 775.0,356.0 671.2,355.5 672.5,352.5 677.5,342.5 682.5,333.0Z"/>
<path class="st" fill="none" d="M707.5,356.0 752.5,356.0 757.5,380.0 761.2,400.0 763.8,410.0 762.5,420.0 762.5,430.0 763.8,439.5 720.0,440.0 719.5,451.9 714.5,452.7 713.0,450.0 711.2,446.6 710.2,450.0 709.5,451.5 707.4,451.0 704.0,451.0 703.0,447.5 702.5,425.0 703.8,400.0 706.2,375.0 707.5,356.0Z"/>
<path class="st" fill="none" d="M752.5,356.0 793.8,356.0 792.5,358.8 795.0,362.5 802.5,370.0 810.0,380.0 817.5,390.0 822.5,397.5 828.8,407.5 833.8,416.2 831.2,425.0 827.5,435.0 825.0,442.5 816.2,443.8 812.5,451.2 810.0,445.0 763.8,439.5 762.5,430.0 762.5,420.0 763.8,410.0 761.2,400.0 757.5,380.0 752.5,356.0Z"/>
<path class="st" fill="none" d="M720.0,440.0 763.8,439.5 810.0,445.0 812.5,451.2 816.2,443.8 825.0,442.5 826.2,452.5 830.0,465.0 833.4,470.0 836.6,479.7 841.5,492.6 844.7,502.3 847.9,512.1 849.5,521.8 849.5,531.5 848.7,539.5 846.3,546.0 841.5,550.9 836.6,553.3 832.6,554.3 830.1,549.3 826.9,542.8 820.4,537.9 817.2,531.5 812.3,523.4 809.1,515.3 804.3,507.2 802.6,500.7 805.2,500.2 803.8,495.0 801.2,485.0 797.5,475.0 790.0,465.0 782.5,460.0 776.0,457.7 764.4,461.9 757.7,465.0 756.0,461.9 749.3,457.7 741.0,454.4 732.6,452.7 719.5,451.9Z"/>
<path class="st" fill="none" d="M820.0,321.8 921.7,322.0 923.1,326.6 924.4,330.2 924.0,332.9 917.0,332.6 909.2,334.1 909.2,335.8 917.7,336.2 924.9,337.2 925.3,338.5 924.9,341.9 922.2,344.6 919.5,347.3 915.9,348.2 911.4,348.2 910.1,350.9 910.5,354.5 914.1,355.4 917.7,357.2 915.0,359.9 911.4,362.6 906.9,363.5 902.4,364.3 899.8,364.8 894.2,369.1 889.0,373.4 885.8,377.7 880.4,378.3 875.0,379.4 856.7,360.5 836.2,357.8 830.8,353.5 817.5,352.5 805.0,353.8 792.5,358.8 793.8,356.0 775.0,356.0 778.8,351.2 785.0,347.5 792.5,343.8 800.0,340.0 806.2,333.8 815.0,328.8Z"/>
<path class="st" fill="none" d="M888.0,257.8 891.4,261.2 895.6,265.4 900.6,269.5 902.3,273.7 899.0,278.8 898.0,281.3 903.2,283.0 909.0,288.5 913.0,291.5 915.7,293.9 910.7,293.0 907.3,294.7 912.4,297.2 915.7,300.6 914.0,304.8 909.0,308.1 914.0,310.6 917.4,314.8 920.8,319.0 922.5,321.8 797.5,321.5 800.0,315.5 806.0,312.0 812.5,308.0 816.8,303.1 821.8,306.4 825.2,308.1 830.2,305.6 835.2,304.8 840.3,302.3 845.3,301.4 847.8,295.5 852.0,289.7 855.3,284.6 859.5,278.0 863.7,280.4 867.0,275.4 870.4,271.2 875.5,267.0 880.5,259.5 883.9,260.3Z M925.0,292.2 932.5,289.7 930.0,293.0 927.5,297.0 924.0,303.1 921.6,308.1 921.0,303.0 922.5,297.0Z"/>
<path class="st" fill="none" d="M925.0,250.2 926.6,252.0 928.3,256.1 930.0,261.2 932.5,266.2 935.0,272.9 935.9,278.8 925.8,278.8 925.8,252.0Z"/>
<path class="st" fill="none" d="M941.1,215.4 957.9,223.8 957.0,228.8 953.7,233.0 954.5,237.2 953.7,243.9 951.2,252.3 947.8,259.0 943.0,266.2 940.0,267.9 936.8,263.8 931.8,258.8 929.2,253.8 930.2,249.8 933.5,247.3 937.7,243.1 941.1,238.0 937.7,233.9 935.2,230.5 936.1,225.5 938.6,220.4 941.1,215.4Z"/>
<path class="st" fill="none" d="M841.8,200.0 855.5,193.8 855.5,199.0 933.5,199.5 937.7,205.4 941.1,211.2 941.1,215.4 938.6,220.4 936.1,225.5 935.2,230.5 937.7,233.9 941.1,238.0 937.7,243.1 933.5,247.3 930.2,249.8 928.0,251.0 925.0,250.2 841.8,250.2Z"/>
<path class="st" fill="none" d="M855.5,199.0 855.7,193.9 860.1,188.9 866.8,182.2 870.1,175.5 867.6,170.4 878.5,167.9 891.9,167.9 900.3,167.1 908.7,165.4 914.6,162.1 917.1,157.9 917.9,153.7 914.6,149.5 918.8,145.3 923.8,141.9 930.5,135.2 937.2,128.5 966.8,127.5 965.5,140.0 966.8,155.0 968.0,165.0 967.1,166.8 966.2,181.5 964.6,199.5 963.7,217.1 961.2,222.1 958.7,224.6 957.9,223.8 941.1,215.4 941.1,211.2 937.7,205.4 933.5,199.5Z M957.0,229.5 957.9,228.0 967.1,223.8 977.2,221.3 983.9,220.4 988.9,222.1 983.9,223.8 990.6,223.0 980.5,226.3 970.4,229.7 962.0,232.2 957.0,232.2Z"/>
<path class="st" fill="none" d="M966.8,127.5 999.0,127.5 996.8,135.0 991.8,145.0 988.0,152.5 985.5,160.0 984.0,170.0 981.3,181.5 966.2,181.5 967.1,166.8 968.0,165.0 966.8,155.0 965.5,140.0Z"/>
<path class="st" fill="none" d="M999.0,127.5 1002.4,120.3 1007.5,121.0 1008.3,137.7 1008.9,148.5 1010.0,160.4 1011.6,166.8 1014.0,171.5 1011.5,176.8 1010.7,181.5 981.3,181.5 984.0,170.0 985.5,160.0 988.0,152.5 991.8,145.0 996.8,135.0 999.0,127.5Z"/>
<path class="st" fill="none" d="M1007.5,121.0 1012.3,118.5 1014.5,112.5 1017.7,108.2 1020.7,102.0 1021.5,96.4 1024.2,92.0 1024.7,85.6 1027.4,81.3 1031.8,74.8 1036.1,68.3 1039.3,65.6 1042.0,67.3 1042.5,73.2 1046.8,71.6 1051.2,69.9 1055.5,68.3 1059.8,72.6 1063.0,75.9 1063.6,82.3 1063.5,100.0 1064.4,108.6 1069.8,112.9 1069.8,120.5 1073.6,123.2 1076.3,127.0 1077.9,131.3 1075.2,134.0 1071.9,135.6 1067.6,137.2 1063.3,139.4 1059.0,141.5 1054.7,144.2 1050.4,143.1 1046.1,142.0 1043.4,143.1 1042.3,147.4 1039.6,151.8 1035.3,153.9 1031.0,156.1 1027.2,157.1 1023.4,160.4 1020.2,164.7 1016.9,169.0 1014.0,171.5 1011.6,166.8 1010.0,160.4 1008.9,148.5 1008.3,137.7Z"/>
<path class="st" fill="none" d="M964.6,199.5 995.6,199.5 995.6,212.9 983.9,215.4 972.1,217.9 965.4,219.6 961.2,222.1 963.7,217.1Z"/>
<path class="st" fill="none" d="M995.6,199.5 1001.5,199.5 1002.3,205.4 1004.0,209.5 1000.6,211.2 995.6,212.9Z"/>
<path class="st" fill="none" d="M170.5,421.0 164.1,417.7 157.4,416.8 149.0,414.3 140.6,412.6 133.9,413.5 128.9,411.8 125.5,409.3 120.5,408.5 116.3,405.9 113.0,404.3 109.6,406.8 105.4,410.1 100.4,412.6 93.7,415.2 90.3,419.4 88.6,424.4 83.6,428.6 77.7,431.1 78.6,435.3 82.8,440.3 87.0,443.7 91.2,447.9 95.3,449.5 96.2,453.7 92.0,454.6 87.0,452.9 81.9,453.7 76.1,457.1 71.9,460.4 76.1,464.6 77.7,468.8 83.6,469.7 90.3,468.8 96.2,468.0 97.9,472.2 97.0,477.2 93.7,480.6 88.6,483.1 83.6,487.3 81.1,492.3 80.3,497.3 82.8,500.2 85.3,504.4 90.3,506.9 93.7,510.3 95.3,514.4 100.4,515.3 107.1,514.4 112.1,513.6 111.3,517.0 108.8,522.0 105.4,527.9 100.4,532.9 95.3,536.3 87.0,540.4 78.6,544.6 70.2,548.8 65.2,553.0 71.9,550.5 78.6,546.3 85.3,543.0 92.0,539.6 98.7,536.3 103.7,532.9 108.8,528.7 113.8,523.7 118.8,518.6 122.2,513.6 123.9,510.3 128.9,503.5 133.9,497.7 137.3,496.8 132.0,505.0 127.2,511.9 131.4,510.3 135.6,508.6 139.0,505.2 142.3,501.9 148.2,498.5 152.4,499.4 157.4,501.9 164.1,503.5 170.5,503.5 175.9,504.4 179.2,509.4 184.2,515.3 187.6,510.3 191.0,507.7 194.3,512.8 199.3,520.3 204.4,527.0 209.4,532.9 210.2,538.8 206.0,541.3 201.0,541.3 197.7,536.3 192.6,528.7 187.6,520.3 183.0,516.5 178.0,511.0 174.5,506.5 170.5,505.5Z M120.5,525.4 123.0,520.5 127.0,518.0 130.6,517.8 129.0,522.5 125.0,527.5 121.5,529.0Z M57.6,477.0 60.0,476.5 64.0,479.0 68.5,481.0 67.5,482.4 62.0,480.6 58.0,479.0Z M74.4,504.0 77.5,503.5 80.3,505.5 79.0,507.0 75.5,506.3Z M58.0,554.5 62.0,553.0 62.5,554.2 58.5,555.8Z M50.0,557.0 54.5,555.5 55.0,556.7 50.5,558.3Z M42.0,559.5 46.5,558.0 47.0,559.2 42.5,560.6Z"/>
<path class="st" fill="none" d="M243.0,476.0 244.5,472.8 248.0,471.0 252.5,471.2 254.8,473.5 254.0,477.5 250.5,480.0 246.0,479.8Z M282.0,486.5 285.6,485.3 288.5,488.5 290.5,492.0 292.8,495.5 287.0,495.6 283.0,494.8 280.3,490.0Z M302.3,497.6 308.0,497.4 314.0,498.6 315.3,500.0 313.5,501.0 307.0,500.6 302.8,499.6Z M307.8,505.0 310.5,504.4 312.2,506.5 311.0,508.6 308.6,507.8Z M317.0,503.0 321.0,502.6 324.5,505.0 329.0,506.0 333.0,508.5 331.5,512.0 327.0,513.5 323.0,512.5 320.5,509.5 318.5,507.0Z M337.5,522.5 347.5,527.2 353.8,533.5 360.8,541.2 354.0,547.8 346.5,553.0 341.2,556.2 337.2,552.5 334.8,542.5 333.0,536.2 336.0,529.5Z M232.5,481.3 235.5,478.2 236.5,479.3 233.8,482.0Z M317.0,513.5 319.0,513.2 319.0,514.6 317.3,514.8Z"/>
<path class="st s2" fill="none" d="M103.2,25.5 205.0,25.5 205.0,96.2 207.0,97.5 205.0,101.2 185.0,102.5 165.0,103.8 150.0,106.2 136.2,110.0 125.0,110.0 115.0,112.0 106.2,110.0 103.8,105.0 97.5,98.8 83.8,96.2 83.8,95.0 81.2,82.5 78.8,72.5 76.8,67.0 75.1,60.3 72.6,55.3 70.9,48.6 70.5,41.4 76.8,43.9 85.2,46.9 93.6,47.7 99.4,48.1 103.6,47.7 104.9,43.5 107.0,39.3 108.5,36.5 107.0,32.6 104.5,29.3Z M96.9,36.0 99.0,33.5 102.0,32.2 104.0,34.0 104.3,37.5 102.5,40.0 99.5,39.5Z"/>
<path class="st s2" fill="none" d="M83.8,96.2 97.5,98.8 103.8,105.0 106.2,110.0 115.0,112.0 125.0,110.0 136.2,110.0 150.0,106.2 165.0,103.8 185.0,102.5 205.0,101.2 210.0,106.2 213.8,110.0 211.2,120.0 206.2,132.5 202.5,141.2 205.5,146.2 205.5,199.5 77.5,199.5 75.0,192.5 73.0,180.0 75.0,170.0 77.5,150.0 80.0,130.0 82.5,110.0Z"/>
<path class="st s2" fill="none" d="M152.5,199.5 256.5,199.5 256.5,331.0 250.0,332.5 246.2,335.0 246.2,353.8 152.5,268.0Z"/>
<path class="st s2" fill="none" d="M465.5,245.0 580.5,245.0 588.0,250.0 590.5,257.5 594.5,262.5 594.5,313.0 465.5,313.0Z"/>
<path class="st s2" fill="none" d="M564.2,162.5 654.5,162.5 656.0,170.0 658.8,180.0 667.5,188.2 672.5,195.0 673.8,202.5 667.5,210.0 660.0,213.8 658.8,223.8 656.0,231.0 651.0,241.0 645.0,233.8 577.5,233.8 574.5,231.0 572.0,220.0 569.0,207.5 567.0,195.0 565.5,186.0 562.5,170.0Z"/>
<path class="st s2" fill="none" d="M596.0,323.0 677.5,323.0 675.0,332.5 682.5,333.0 677.5,342.5 672.5,352.5 671.2,355.5 667.5,362.5 662.5,372.5 658.8,380.0 656.2,390.0 656.2,398.0 606.2,398.0 606.2,386.2 597.5,382.5Z"/>
<path class="st s2" fill="none" d="M606.2,398.0 656.2,398.0 655.0,407.5 656.2,415.0 652.5,422.5 650.0,430.0 651.2,438.8 680.6,438.8 681.4,447.5 681.4,452.0 680.6,458.6 683.1,460.3 686.4,458.6 689.0,461.1 685.6,463.6 684.8,467.0 689.0,471.2 693.2,475.4 690.6,477.9 686.4,473.7 681.4,469.5 677.2,470.3 673.9,473.7 670.5,476.2 665.5,474.5 662.1,477.9 658.8,476.2 654.6,473.7 650.4,469.5 645.4,468.6 643.7,466.1 640.3,464.4 633.6,465.0 623.5,463.9 615.2,463.6 611.2,464.5 612.5,455.0 613.8,445.0 611.2,435.0 608.8,425.0 606.2,417.5Z"/>
<path class="st s2" fill="none" d="M640.0,83.8 650.0,81.2 660.0,78.8 662.5,85.0 668.0,87.5 670.9,88.6 676.8,92.0 685.2,96.2 693.5,99.5 700.3,102.1 705.3,105.4 710.3,108.8 713.7,113.8 715.4,118.8 717.9,122.2 715.0,128.8 711.5,137.5 720.0,127.5 725.0,122.0 728.8,121.0 725.0,128.0 721.0,137.0 718.8,146.0 716.2,155.0 713.8,167.5 713.0,177.0 713.8,188.2 667.5,188.2 658.8,180.0 656.0,170.0 654.5,162.5 654.5,162.5 653.8,157.5 650.0,152.5 642.5,145.0 635.0,137.5 628.8,130.0 628.8,120.0 626.0,112.5 627.5,106.2 635.0,102.5 636.0,87.5 640.0,83.8Z"/>
<path class="st s2" fill="none" d="M718.8,205.5 720.0,206.5 727.5,207.5 735.0,204.5 766.2,205.5 766.2,267.5 767.5,270.0 760.0,275.0 755.0,280.0 750.0,282.5 745.0,288.8 737.5,287.5 732.5,292.5 725.0,290.0 718.8,290.0 711.2,287.5 711.2,287.5 713.8,280.0 717.5,270.0 718.8,260.0Z"/>
<path class="st s2" fill="none" d="M687.5,308.8 694.2,307.1 699.2,308.8 702.6,306.3 707.6,300.4 709.5,294.0 711.2,287.5 718.8,290.0 725.0,290.0 732.5,292.5 737.5,287.5 745.0,288.8 750.0,282.5 755.0,280.0 760.0,275.0 767.5,270.0 766.2,267.5 767.5,268.8 772.5,265.0 780.0,270.0 787.5,271.2 795.0,272.5 802.5,275.0 807.5,280.4 806.0,284.6 806.7,289.7 809.2,294.7 813.4,299.7 816.8,303.1 812.5,308.0 806.0,312.0 800.0,315.5 797.5,321.5 710.0,321.5 710.0,323.5 690.0,323.5 685.0,322.5 689.1,316.0Z"/>
<path class="st s2" fill="none" d="M671.2,355.5 707.5,356.0 706.2,375.0 703.8,400.0 702.5,425.0 703.0,447.5 704.0,451.0 702.4,451.9 694.0,451.9 687.3,453.5 681.4,456.1 680.6,458.6 681.4,452.0 681.4,447.5 680.6,438.8 651.2,438.8 650.0,430.0 652.5,422.5 656.2,415.0 655.0,407.5 656.2,398.0 656.2,398.0 656.2,390.0 658.8,380.0 662.5,372.5 667.5,362.5 671.2,355.5Z"/>
<path class="st s2" fill="none" d="M792.5,358.8 805.0,353.8 817.5,352.5 830.8,353.5 836.2,357.8 856.7,360.5 875.0,379.4 871.8,383.1 867.4,387.4 865.3,392.8 861.0,398.2 855.6,402.5 849.1,406.8 842.6,412.0 833.8,416.2 828.8,407.5 822.5,397.5 817.5,390.0 810.0,380.0 802.5,370.0 795.0,362.5Z"/>
<path class="st s2" fill="none" d="M841.8,231.0 841.8,250.2 860.4,250.2 860.4,261.2 865.4,258.6 870.4,256.0 875.5,257.8 880.5,253.6 885.5,254.5 888.0,257.8 883.9,260.3 880.5,259.5 875.5,267.0 870.4,271.2 867.0,275.4 863.7,280.4 859.5,278.0 855.3,284.6 852.0,289.7 847.8,295.5 845.3,301.4 840.3,302.3 835.2,304.8 830.2,305.6 825.2,308.1 821.8,306.4 816.8,303.1 813.4,299.7 809.2,294.7 806.7,289.7 806.0,284.6 807.5,280.4 810.0,276.3 812.6,272.0 815.9,268.7 819.3,264.5 823.5,261.2 828.5,257.8 832.7,254.4 836.0,251.0 838.6,244.4 840.2,236.0Z"/>
<path class="st s2" fill="none" d="M860.4,250.2 925.0,250.2 925.8,252.0 925.8,278.8 935.9,278.8 934.5,284.0 932.5,289.7 925.0,292.2 923.3,289.7 921.6,284.6 920.8,278.0 921.6,269.5 923.3,262.8 924.0,254.5 922.0,253.5 920.0,259.5 917.4,266.2 915.7,272.9 914.0,279.6 912.4,286.3 909.0,286.0 903.2,283.0 898.0,281.3 899.0,278.8 902.3,273.7 900.6,269.5 895.6,265.4 891.4,261.2 888.0,257.8 888.0,257.8 885.5,254.5 880.5,253.6 875.5,257.8 870.4,256.0 865.4,258.6 860.4,261.2Z"/>
<path class="st s2" fill="none" d="M966.2,181.5 1010.7,181.5 1014.0,179.4 1015.7,183.5 1012.4,187.7 1010.7,193.6 1012.4,198.6 1014.9,203.7 1020.8,204.5 1024.1,205.4 1025.0,202.0 1023.3,198.6 1025.8,200.3 1026.6,206.2 1023.3,207.9 1017.4,208.7 1012.4,210.4 1007.3,208.7 1004.0,209.5 1002.3,205.4 1001.5,199.5 964.6,199.5Z M1012.4,213.0 1016.6,212.6 1016.6,214.4 1012.8,214.8Z M1022.4,215.4 1025.8,215.6 1025.8,217.0 1022.8,217.0Z"/>
</g>
<path class="w" d="M275.6,208.4 277.0,207.2 279.0,208.0 280.5,212.0 282.7,215.1 286.0,217.5 289.4,220.2 289.6,224.0 289.0,227.7 287.3,229.8 285.2,229.4 283.5,226.0 280.5,222.8 278.6,221.8 277.5,217.0 275.2,211.8Z"/>
<path class="w" d="M109.5,288.0 111.0,287.5 113.0,293.0 115.5,299.0 114.0,300.5 111.5,295.0Z"/>
<path class="w" d="M836.3,514.3 839.3,516.5 840.9,519.6 839.5,523.0 836.8,525.3 833.8,523.3 831.6,520.0 833.5,516.8Z"/>
<path fill="none" stroke="#e4e9ec" stroke-width="1.1" d="M105.3,48.6 107.3,54.0 108.8,60.0 110.0,65.5 110.2,69.0"/>
<path fill="none" stroke="#e4e9ec" stroke-width="1.1" d="M108.5,44.0 109.8,50.0 110.3,57.0"/>
<path fill="none" stroke="#8f9296" stroke-width="1.15" d="M921.7,322.6 924.5,329.0 927.6,337.0"/>
<path fill="none" stroke="#8f9296" stroke-width="1.15" d="M921.7,352.7 925.5,350.3 928.9,346.8"/>
<path fill="none" stroke="#8f9296" stroke-width="1.15" d="M846.3,549.2 843.5,554.0 840.6,557.3"/>
<path fill="none" stroke="#8f9296" stroke-width="1.15" d="M826.9,563.0 819.6,565.4"/>
</g><g id="labels">
<text class="lb" transform="translate(144.4 68.8) scale(.875 1)">0.6%</text>
<text class="lb" transform="translate(332.2 82.5) scale(.875 1)">0.4%</text>
<text class="lb" transform="translate(502.1 68.8) scale(.875 1)">0.4%</text>
<text class="lb" transform="translate(601.9 100.7) scale(.875 1)">0.3%</text>
<text class="lb" transform="translate(144.4 157.0) scale(.875 1)">0.7%</text>
<text class="lb" transform="translate(252.5 144.5) scale(.875 1)">0.4%</text>
<text class="lb" transform="translate(372.0 181.3) scale(.875 1)">0.4%</text>
<text class="lb" transform="translate(498.2 144.5) scale(.875 1)">0.5%</text>
<text class="lb" transform="translate(677.5 144.5) scale(.875 1)">0.5%</text>
<text class="lb" transform="translate(755.2 150.8) scale(.875 1)">0.3%</text>
<text class="lb" transform="translate(1039.2 120.0) scale(.875 1)">1.8%</text>
<text class="lb" transform="translate(999.5 165.0) scale(.875 1)">0.5%</text>
<text class="lb" transform="translate(930.5 181.3) scale(.875 1)">2.7%</text>
<text class="lb" transform="translate(995.0 196.8) scale(.875 1)">1.0%</text>
<text class="lb" transform="translate(979.6 213.5) scale(.875 1)">1.4%</text>
<text class="lb" transform="translate(506.1 215.7) scale(.875 1)">0.4%</text>
<text class="lb" transform="translate(616.0 203.8) scale(.875 1)">0.7%</text>
<text class="lb" transform="translate(690.2 250.0) scale(.875 1)">1.1%</text>
<text class="lb" transform="translate(743.0 250.0) scale(.875 1)">1.0%</text>
<text class="lb" transform="translate(799.1 244.5) scale(.875 1)">1.1%</text>
<text class="lb" transform="translate(888.9 231.0) scale(.875 1)">1.1%</text>
<text class="lb" transform="translate(947.2 247.8) scale(.875 1)">2.8%</text>
<text class="lb" transform="translate(210.0 268.5) scale(.875 1)">1.0%</text>
<text class="lb" transform="translate(297.8 268.1) scale(.875 1)">0.3%</text>
<text class="lb" transform="translate(406.4 273.1) scale(.875 1)">0.2%</text>
<text class="lb" transform="translate(527.8 284.5) scale(.875 1)">0.6%</text>
<text class="lb" transform="translate(632.8 289.5) scale(.875 1)">0.5%</text>
<text class="lb" transform="translate(767.0 299.5) scale(.875 1)">0.9%</text>
<text class="lb" transform="translate(838.6 281.9) scale(.875 1)">0.7%</text>
<text class="lb" transform="translate(904.0 275.8) scale(.875 1)">1.6%</text>
<text class="lb" transform="translate(882.0 301.4) scale(.875 1)">0.3%</text>
<text class="lb" transform="translate(157.2 312.5) scale(.875 1)">0.3%</text>
<text class="lb" transform="translate(301.5 371.4) scale(.875 1)">0.3%</text>
<text class="lb" transform="translate(397.5 372.0) scale(.875 1)">1.5%</text>
<text class="lb" transform="translate(546.0 350.0) scale(.875 1)">1.1%</text>
<text class="lb" transform="translate(632.8 366.4) scale(.875 1)">0.6%</text>
<text class="lb" transform="translate(742.2 345.0) scale(.875 1)">0.4%</text>
<text class="lb" transform="translate(851.5 349.8) scale(.875 1)">0.5%</text>
<text class="lb" transform="translate(833.2 382.0) scale(.875 1)">0.8%</text>
<text class="lb" transform="translate(681.5 408.4) scale(.875 1)">0.8%</text>
<text class="lb" transform="translate(733.4 408.4) scale(.875 1)">0.5%</text>
<text class="lb" transform="translate(789.8 408.4) scale(.875 1)">0.5%</text>
<text class="lb" transform="translate(514.8 438.9) scale(.875 1)">0.5%</text>
<text class="lb" transform="translate(642.0 444.5) scale(.875 1)">1.0%</text>
<text class="lb" transform="translate(825.0 495.1) scale(.875 1)">1.4%</text>
<text class="lb" transform="translate(138.1 479.9) scale(.875 1)">0.3%</text>
<text class="lb" transform="translate(322.5 492.0) scale(.875 1)">1.7%</text>
</g>
<rect x="860.5" y="604.5" width="221" height="19" fill="url(#lg)" stroke="#9a9a9a" stroke-width="1"/>
<rect x="971" y="620" width="1.4" height="5.5" fill="#222"/>
<text x="825.8" y="620.3" font-size="13.1" fill="#2a2a2a" stroke="#2a2a2a" stroke-width="0.25" font-family="Liberation Sans, Arial, sans-serif">0.2%</text>
<text x="1086" y="618.8" font-size="13.1" fill="#2a2a2a" stroke="#2a2a2a" stroke-width="0.25" font-family="Liberation Sans, Arial, sans-serif">2.8%</text>
<text x="543.3" y="602" text-anchor="middle" font-size="23.8" font-weight="bold" fill="#464646" font-family="Liberation Sans, Arial, sans-serif">Foreclosure Rates by State</text>
<text x="542.7" y="627.3" text-anchor="middle" font-size="20.4" fill="#4c4c4c" font-family="Liberation Sans, Arial, sans-serif">As of December 2016</text>
<text x="18.5" y="647" font-size="13.6" fill="#333" stroke="#333" stroke-width="0.25" font-family="Liberation Sans, Arial, sans-serif">Source: CoreLogic Market Trends</text>
</svg></body></html>
